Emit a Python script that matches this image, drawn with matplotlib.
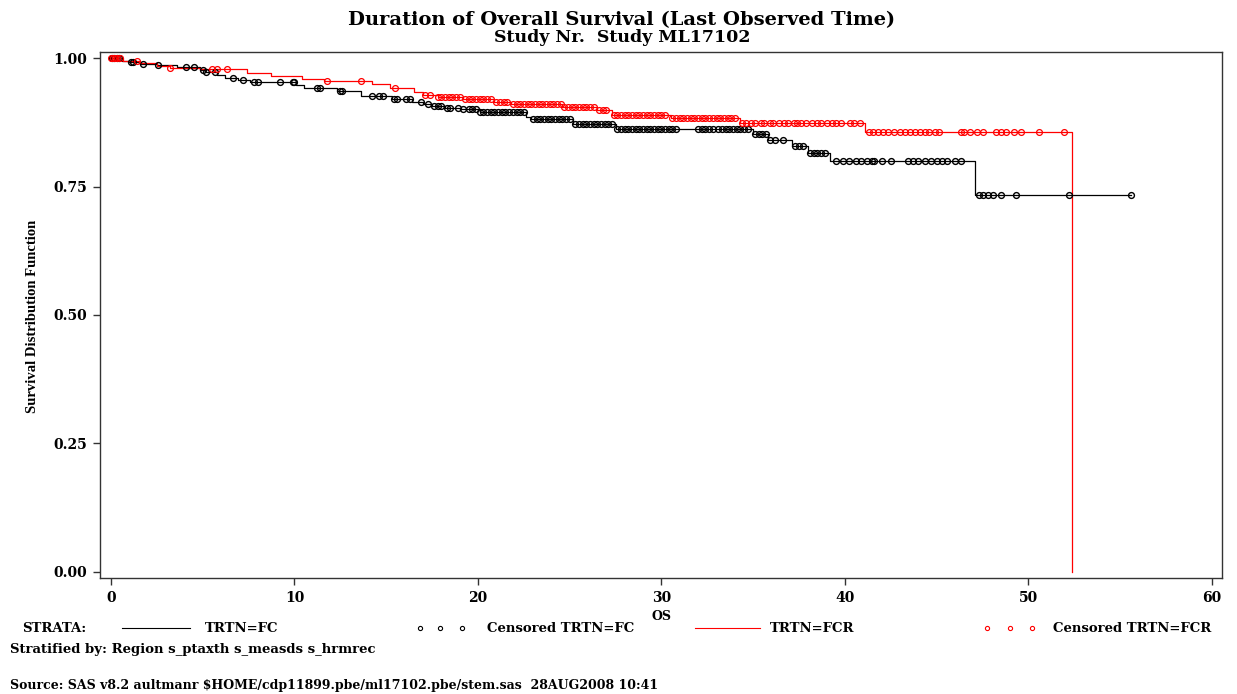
import numpy as np
import matplotlib
matplotlib.use('Agg')
import matplotlib.pyplot as plt
from matplotlib.lines import Line2D

# Kaplan-Meier steps (time, survival after the step)
fc_t = [0, 0.6, 0.9, 1.6, 2.5, 3.6, 4.85, 5.1, 5.8, 6.2, 6.9, 7.6, 10.1, 10.5, 12.3, 13.6,
        15.3, 16.4, 17.0, 17.5, 18.2, 19.0, 20.1, 22.6, 22.9, 25.2, 27.5, 35.0, 35.8, 37.1,
        38.0, 39.2, 47.1, 55.6]
fc_s = [1.0, 0.995, 0.992, 0.989, 0.986, 0.982, 0.977, 0.972, 0.967, 0.962, 0.957, 0.953,
        0.948, 0.941, 0.936, 0.926, 0.921, 0.915, 0.911, 0.907, 0.903, 0.900, 0.895, 0.886,
        0.881, 0.872, 0.861, 0.852, 0.840, 0.828, 0.815, 0.800, 0.733, 0.733]

fcr_t = [0, 0.65, 1.5, 2.5, 3.2, 4.85, 7.4, 8.7, 10.4, 11.6, 14.2, 15.2, 16.5, 17.0, 17.8,
         19.2, 20.9, 21.8, 24.6, 26.5, 27.3, 30.5, 34.3, 41.1, 52.35, 52.35]
fcr_s = [1.0, 0.995, 0.990, 0.985, 0.981, 0.978, 0.970, 0.965, 0.959, 0.955, 0.949, 0.941,
         0.933, 0.928, 0.925, 0.920, 0.914, 0.910, 0.904, 0.899, 0.890, 0.883, 0.874, 0.857,
         0.857, 0.0]

# censored times
fc_cens = [0.05, 0.15, 0.3, 0.45, 1.1, 1.2, 1.75, 2.55, 4.1, 4.5, 5.0, 5.15, 5.65, 6.65, 7.2,
           7.8, 8.0, 9.2, 9.9, 10.0, 11.2, 11.4, 12.5, 12.6, 14.2, 14.6, 14.8, 15.4, 15.6, 16.1,
           16.3, 16.9, 17.3, 17.6, 17.8, 18.0, 18.3, 18.5, 18.9, 19.2, 19.5, 19.7, 19.9, 20.1,
           20.3, 20.5, 20.7, 20.9, 21.1, 21.3, 21.5, 21.7, 21.9, 22.1, 22.3, 22.5, 23.0, 23.2,
           23.4, 23.6, 23.8, 24.0, 24.2, 24.4, 24.6, 24.8, 25.0, 25.3, 25.5, 25.7, 25.9, 26.1,
           26.3, 26.5, 26.7, 26.9, 27.1, 27.3, 27.6, 27.8, 28.0, 28.2, 28.4, 28.6, 28.8, 29.0,
           29.2, 29.4, 29.6, 29.8, 30.0, 30.2, 30.4, 30.6, 30.8, 32.0, 32.2, 32.4, 32.6, 32.8,
           33.1, 33.3, 33.5, 33.7, 33.9, 34.1, 34.3, 34.5, 34.7, 35.1, 35.3, 35.5, 35.7, 35.9,
           36.2, 36.6, 37.3, 37.5, 37.7, 38.1, 38.3, 38.5, 38.7, 38.9, 39.5, 39.9, 40.2, 40.6,
           40.9, 41.2, 41.45, 41.6, 42.0, 42.5, 43.45, 43.7, 44.0, 44.35, 44.7, 45.0, 45.3,
           45.55, 46.0, 46.35, 47.3, 47.55, 47.8, 48.05, 48.5, 49.3, 52.2, 55.6]

fcr_cens = [0.0, 0.1, 0.2, 0.35, 0.5, 1.4, 3.2, 5.5, 5.8, 6.3, 11.75, 13.65, 15.5, 17.1, 17.4,
            17.8, 18.0, 18.2, 18.4, 18.6, 18.8, 19.0, 19.3, 19.5, 19.7, 19.9, 20.1, 20.3, 20.5,
            20.7, 21.0, 21.2, 21.4, 21.6, 21.9, 22.1, 22.3, 22.5, 22.7, 22.9, 23.1, 23.3, 23.5,
            23.7, 23.9, 24.1, 24.3, 24.5, 24.7, 24.9, 25.1, 25.3, 25.5, 25.7, 25.9, 26.1, 26.3,
            26.6, 26.8, 27.0, 27.4, 27.6, 27.8, 28.0, 28.2, 28.4, 28.6, 28.8, 29.0, 29.2, 29.4,
            29.6, 29.8, 30.0, 30.2, 30.6, 30.8, 31.0, 31.2, 31.4, 31.6, 31.8, 32.0, 32.2, 32.4,
            32.6, 32.8, 33.0, 33.2, 33.4, 33.6, 33.8, 34.0, 34.4, 34.6, 34.9, 35.1, 35.4, 35.6,
            35.9, 36.1, 36.4, 36.7, 36.9, 37.2, 37.4, 37.6, 37.9, 38.2, 38.5, 38.7, 39.0, 39.3,
            39.5, 39.8, 40.3, 40.5, 40.8, 41.3, 41.55, 41.8, 42.1, 42.35, 42.7, 43.0, 43.3, 43.55,
            43.8, 44.1, 44.35, 44.6, 44.9, 45.1, 46.3, 46.5, 46.8, 47.2, 47.5, 48.25, 48.5, 48.8,
            49.2, 49.6, 50.6, 51.95]

x_ticks = [0, 10, 20, 30, 40, 50, 60]
y_ticks = [0.0, 0.25, 0.5, 0.75, 1.0]


def level(times, surv, t):
    idx = np.searchsorted(times, t, side='right') - 1
    return np.asarray(surv)[idx]


W, H = 1237, 694
fig = plt.figure(figsize=(W / 100, H / 100), dpi=100)
ax = fig.add_axes([100 / W, 1 - 578 / H, 1122 / W, 526 / H])

ax.step(fc_t, fc_s, where='post', color='black', lw=0.9)
ax.step(fcr_t, fcr_s, where='post', color='red', lw=0.9)
ax.plot(fc_cens, level(fc_t[:-1], fc_s[:-1], fc_cens), 'o', ms=4.2, mfc='none', mec='black', mew=1.0)
ax.plot(fcr_cens, level(fcr_t[:-2], fcr_s[:-2], fcr_cens), 'o', ms=4.2, mfc='none', mec='red', mew=0.9)

ax.set_xlim(-0.6, 60.55)
ax.set_ylim(-0.0117, 1.0117)
ax.set_xticks(x_ticks)
ax.set_yticks(y_ticks)
ax.set_yticklabels(['%.2f' % v for v in y_ticks])
tick_font = dict(family='DejaVu Serif', weight='bold', size=10)
for lab in ax.get_xticklabels() + ax.get_yticklabels():
    lab.set_fontproperties(matplotlib.font_manager.FontProperties(**tick_font))
ax.tick_params(direction='out', length=5, width=1, color='#333333', pad=4)
for s in ax.spines.values():
    s.set_color('#333333')
    s.set_linewidth(1.0)

ax.set_xlabel('OS', fontfamily='DejaVu Serif', fontweight='bold', fontsize=9, labelpad=4)
fig.text(33 / W, 1 - 316 / H, 'Survival Distribution Function', rotation=90, ha='center',
         va='center', fontfamily='Liberation Serif', fontsize=10.5, fontweight='bold')

fig.text(622 / W, 1 - 20 / H, 'Duration of Overall Survival (Last Observed Time)', ha='center',
         va='center', fontfamily='DejaVu Serif', fontsize=14, fontweight='semibold')
fig.text(622 / W, 1 - 38 / H, 'Study Nr.  Study ML17102', ha='center', va='center',
         fontfamily='DejaVu Serif', fontsize=12.5, fontweight='semibold')

# legend row
leg = dict(family='DejaVu Serif', weight='bold', size=9.5, va='center')
ly = 1 - 628 / H
fig.text(22 / W, ly, 'STRATA:', **leg)
fig.add_artist(Line2D([122 / W, 190 / W], [ly, ly], color='black', lw=0.8))
fig.text(205 / W, ly, 'TRTN=FC', **leg)
fig.add_artist(Line2D(np.array([420, 440, 462]) / W, [ly] * 3, ls='none', marker='o', ms=3,
                      mfc='none', mec='black', mew=0.8))
fig.text(487 / W, ly, 'Censored TRTN=FC', **leg)
fig.add_artist(Line2D([695 / W, 760 / W], [ly, ly], color='red', lw=0.8))
fig.text(770 / W, ly, 'TRTN=FCR', **leg)
fig.add_artist(Line2D(np.array([987, 1010, 1032]) / W, [ly] * 3, ls='none', marker='o', ms=3,
                      mfc='none', mec='red', mew=0.8))
fig.text(1053 / W, ly, 'Censored TRTN=FCR', **leg)

fig.text(10 / W, 1 - 650 / H, 'Stratified by: Region s_ptaxth s_measds s_hrmrec',
         family='DejaVu Serif', weight='bold', size=9.5, va='center')
fig.text(10 / W, 1 - 686 / H,
         'Source: SAS v8.2 aultmanr $HOME/cdp11899.pbe/ml17102.pbe/stem.sas  28AUG2008 10:41',
         family='DejaVu Serif', weight='bold', size=9.0, va='center')

fig.savefig('out.png', dpi=100)
